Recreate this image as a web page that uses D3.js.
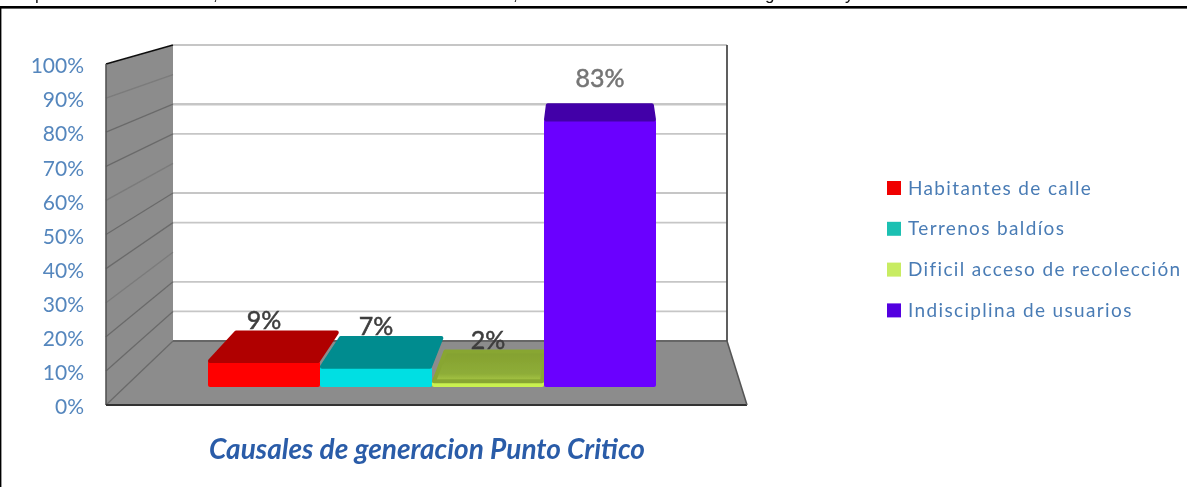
<!DOCTYPE html>
<html>
<head>
<meta charset="utf-8">
<script src="https://cdn.jsdelivr.net/npm/d3@7"></script>
<style>
  html, body { margin: 0; padding: 0; background: #fff; }
  svg { display: block; }
</style>
</head>
<body>
<svg id="chart" width="1187" height="487"></svg>
<script>
'use strict';

/* ── data ── */
const categories = ['Habitantes de calle', 'Terrenos baldíos', 'Dificil acceso de recolección', 'Indisciplina de usuarios'];
const values     = [9, 7, 2, 83];
const ticks      = [0, 10, 20, 30, 40, 50, 60, 70, 80, 90, 100];
const wallGrid   = [10, 20, 40, 50, 70, 80, 100];   // the 30/60/90 lines are lost in the source image
const frontCols  = ['#ff0000', '#00dfe3', '#c9f04f', '#6a00ff'];
const topCols    = ['#b00000', '#008c8f', 'url(#greenTop)', '#4300a8'];
const keyCols    = ['#f00000', '#1fc0b2', '#c8ec62', '#5200e0'];
const labelCols  = ['#3d3d3d', '#3d3d3d', '#3d3d3d', '#757575'];
const headerBits = [[35, 'p'], [213, ','], [513, ','], [765, 'g'], [845, 'y']];

const font = 'Lato, "Open Sans", sans-serif';
const svg  = d3.select('#chart');
const defs = svg.append('defs');

/* soft look of the scanned picture */
defs.append('filter').attr('id', 'soft')
  .append('feGaussianBlur').attr('stdDeviation', 0.55);

const grad = defs.append('linearGradient').attr('id', 'greenTop').attr('x1', 0).attr('y1', 0).attr('x2', 0).attr('y2', 1);
grad.append('stop').attr('offset', '0%').attr('stop-color', '#84a02f');
grad.append('stop').attr('offset', '75%').attr('stop-color', '#8ead38');
grad.append('stop').attr('offset', '100%').attr('stop-color', '#a9c845');

const root = svg.append('g').attr('filter', 'url(#soft)');

/* ── page frame ── */
root.append('rect').attr('x', 0).attr('y', 6).attr('width', 1187).attr('height', 2.6).attr('fill', '#000');
root.append('rect').attr('x', 0).attr('y', 6).attr('width', 1.4).attr('height', 481).attr('fill', '#000');
root.selectAll('text.header').data(headerBits).join('text')
  .attr('class', 'header')
  .attr('x', d => d[0]).attr('y', 0)
  .attr('font-family', 'Liberation Sans, sans-serif').attr('font-size', 17).attr('fill', '#111')
  .text(d => d[1]);

/* ── scales ── */
const yFront = d3.scaleLinear().domain([0, 100]).range([405, 64]);  // front edge of the side wall
const yBack  = d3.scaleLinear().domain([0, 100]).range([341, 45]);  // back wall
const yBar   = d3.scaleLinear().domain([0, 10, 100]).range([387, 358, 64]);
const xBar   = d3.scaleBand().domain(categories).range([208, 656]);

const wallL = 173, wallR = 727, sideL = 106, floorR = 747;
const line = d3.line();

/* ── walls and floor ── */
root.append('path')
  .attr('d', line([[sideL, yFront(0)], [sideL, yFront(100)], [wallL, yBack(100)], [wallL, yBack(0)], [wallR, yBack(0)], [floorR, yFront(0)]]) + 'Z')
  .attr('fill', '#8c8c8c');

root.selectAll('line.grid').data(wallGrid).join('line')
  .attr('class', 'grid')
  .attr('x1', wallL).attr('x2', wallR)
  .attr('y1', d => yBack(d)).attr('y2', d => yBack(d))
  .attr('stroke', '#c6c6c6')
  .attr('stroke-width', d => d === 80 ? 2.6 : 1.8);

root.selectAll('line.side').data(ticks).join('line')
  .attr('class', 'side')
  .attr('x1', sideL).attr('x2', wallL)
  .attr('y1', d => yFront(d)).attr('y2', d => yBack(d))
  .attr('stroke', d => d === 100 ? '#111' : '#6a6a6a')
  .attr('stroke-opacity', d => wallGrid.includes(d) || d === 0 ? 1 : 0.5)
  .attr('stroke-width', d => d === 100 ? 1.8 : 1.3);

const edges = [
  [[sideL, yFront(100)], [sideL, yFront(0)], '#555', 1.6],
  [[sideL, yFront(0)], [floorR, yFront(0)], '#333', 1.8],
  [[wallL, yBack(0)], [wallR, yBack(0)], '#666', 2],
  [[wallR, yBack(100)], [wallR, yBack(0)], '#4d4d4d', 1.8],
  [[wallR, yBack(0)], [floorR, yFront(0)], '#555', 1.6],
];
root.selectAll('line.edge').data(edges).join('line')
  .attr('class', 'edge')
  .attr('x1', d => d[0][0]).attr('y1', d => d[0][1])
  .attr('x2', d => d[1][0]).attr('y2', d => d[1][1])
  .attr('stroke', d => d[2]).attr('stroke-width', d => d[3]);

/* ── bars ── */
const depth = v => 32 - 0.19 * v;                      // tall bars show less of their top
const inset = (x, v) => (596 - x) * depth(v) * 0.00223; // top face leans to the vanishing point
const round = 4;                                        // stroke width that rounds the corners

const bars = root.selectAll('g.bar')
  .data(values.map((v, i) => ({ v, i, c: categories[i] })))
  .join('g').attr('class', 'bar');

bars.append('rect')
  .attr('x', d => xBar(d.c) + round / 2).attr('width', xBar.bandwidth() - round)
  .attr('y', d => yBar(d.v) + round / 2).attr('height', d => yBar(0) - yBar(d.v) - round)
  .attr('fill', d => frontCols[d.i]).attr('stroke', d => frontCols[d.i])
  .attr('stroke-width', round).attr('stroke-linejoin', 'round');

bars.append('path')
  .attr('d', d => {
    const x0 = xBar(d.c) + round / 2, x1 = xBar(d.c) + xBar.bandwidth() - round / 2;
    const yt = yBar(d.v), yb = yt - depth(d.v) + round / 2;
    return line([[x0, yt], [x0 + inset(x0, d.v), yb], [x1 + inset(x1, d.v), yb], [x1, yt]]) + 'Z';
  })
  .attr('fill', d => topCols[d.i])
  .attr('stroke', d => d.i === 2 ? '#88a633' : topCols[d.i])
  .attr('stroke-width', round).attr('stroke-linejoin', 'round');

/* ── value labels ── */
root.selectAll('text.val').data(values).join('text')
  .attr('class', 'val')
  .attr('x', (d, i) => xBar(categories[i]) + xBar.bandwidth() / 2)
  .attr('y', d => yBar(d) - depth(d) - 0.2 * d)
  .attr('text-anchor', 'middle')
  .attr('font-family', font).attr('font-size', 25)
  .attr('fill', (d, i) => labelCols[i])
  .attr('stroke', (d, i) => labelCols[i]).attr('stroke-width', 0.5)
  .text(d => d + '%');

/* ── y axis ── */
const axis = root.append('g')
  .attr('transform', 'translate(84,2)')
  .call(d3.axisLeft(yFront).tickValues(ticks).tickSize(0).tickPadding(0).tickFormat(d => d + '%'));
axis.select('.domain').remove();
axis.selectAll('text')
  .attr('font-family', font).attr('font-size', 21).attr('fill', '#5486bd');

/* ── legend ── */
const legend = root.selectAll('g.key').data(categories).join('g')
  .attr('class', 'key')
  .attr('transform', (d, i) => `translate(887,${188 + i * 40.8})`);
legend.append('rect')
  .attr('y', -7).attr('width', 14).attr('height', 14)
  .attr('fill', (d, i) => keyCols[i]);
legend.append('text')
  .attr('x', 21).attr('y', 6.5)
  .attr('font-family', font).attr('font-size', 19).attr('letter-spacing', 1.35)
  .attr('fill', '#4a7cb5')
  .text(d => d);

/* ── title ── */
root.append('text')
  .attr('x', 427).attr('y', 459)
  .attr('text-anchor', 'middle')
  .attr('font-family', font).attr('font-size', 28).attr('font-weight', 700).attr('font-style', 'italic')
  .attr('fill', '#2a5ca8')
  .text('Causales de generacion Punto Critico');
</script>
</body>
</html>
